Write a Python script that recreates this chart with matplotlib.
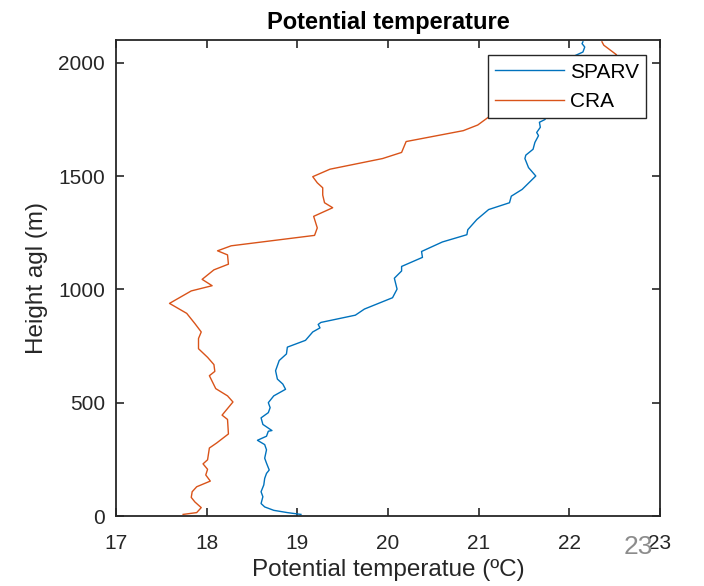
import matplotlib
matplotlib.use("Agg")
import matplotlib.pyplot as plt

plt.rcParams['font.family'] = ['Liberation Sans', 'DejaVu Sans']

# SPARV profile (potential temperature degC, height m)
sparv_theta = [19.04, 18.89, 18.74, 18.64, 18.60, 18.62, 18.60, 18.63, 18.64, 18.66, 18.69,
               18.66, 18.64, 18.66, 18.64, 18.56, 18.66, 18.68, 18.72, 18.62, 18.60, 18.68,
               18.70, 18.68, 18.74, 18.87, 18.84, 18.78, 18.76, 18.80, 18.88, 18.89, 19.09,
               19.17, 19.25, 19.23, 19.26, 19.64, 19.74, 20.05, 20.10, 20.07, 20.15, 20.15,
               20.38, 20.37, 20.60, 20.87, 20.88, 20.98, 21.11, 21.34, 21.36, 21.48, 21.63,
               21.55, 21.51, 21.52, 21.60, 21.62, 21.66, 21.64, 21.68, 21.67, 21.73, 21.85,
               21.95, 22.00, 22.03, 22.15, 22.17, 22.14, 22.15]
sparv_height = [7, 15, 25, 40, 55, 85, 107, 137, 166, 188, 203,
                233, 255, 292, 315, 334, 352, 374, 377, 404, 433, 456,
                478, 500, 530, 559, 582, 604, 641, 686, 715, 745, 775,
                812, 830, 845, 854, 886, 913, 963, 1001, 1049, 1081, 1101,
                1141, 1167, 1209, 1241, 1263, 1308, 1352, 1382, 1411, 1441, 1500,
                1537, 1577, 1592, 1618, 1648, 1678, 1692, 1715, 1737, 1749, 1820,
                1900, 1970, 2025, 2047, 2069, 2084, 2092]

# CRA profile
cra_theta = [17.74, 17.89, 17.94, 17.87, 17.83, 17.84, 17.89, 18.04, 17.99, 18.01, 17.96,
             18.01, 18.03, 18.11, 18.24, 18.23, 18.17, 18.29, 18.23, 18.10, 18.03, 18.09,
             18.08, 18.01, 17.91, 17.91, 17.94, 17.87, 17.78, 17.59, 17.83, 18.06,
             17.95, 18.08, 18.24, 18.23, 18.12, 18.27, 19.19, 19.22, 19.18, 19.39, 19.30,
             19.28, 19.28, 19.22, 19.17, 19.36, 19.94, 20.15, 20.20, 20.83, 20.99, 21.13,
             21.60, 21.95, 22.25, 22.52, 22.38, 22.36]
cra_height = [7, 15, 37, 62, 82, 107, 129, 154, 181, 206, 230,
              248, 300, 322, 362, 426, 445, 503, 530, 562, 619, 638,
              668, 700, 738, 783, 812, 849, 894, 938, 993, 1016,
              1044, 1086, 1111, 1152, 1170, 1192, 1238, 1271, 1322, 1360, 1382,
              1416, 1448, 1470, 1497, 1530, 1577, 1604, 1652, 1700, 1725, 1766,
              1820, 1900, 1970, 2035, 2077, 2092]

xticks = [17, 18, 19, 20, 21, 22, 23]
yticks = [0, 500, 1000, 1500, 2000]

fig = plt.figure(figsize=(7.04, 5.86), dpi=100)
ax = fig.add_axes([116/704, 1 - 516/586, 544/704, 476/586])

ax.plot(sparv_theta, sparv_height, color='#0072BD', lw=1.0, label='SPARV')
ax.plot(cra_theta, cra_height, color='#D95319', lw=1.0, label='CRA')

ax.set_xlim(17, 23)
ax.set_ylim(0, 2100)
ax.set_xticks(xticks)
ax.set_yticks(yticks)
ax.tick_params(direction='in', length=6, width=1.2, top=True, right=True,
               labelsize=15, colors='#262626', pad=8)
ax.tick_params(axis='x', pad=13)
for s in ax.spines.values():
    s.set_linewidth(1.3)
    s.set_color('#262626')

ax.set_title('Potential temperature', fontsize=17, fontweight='bold', pad=8)
ax.set_xlabel('Potential temperatue (ºC)', fontsize=17.5, color='#262626', labelpad=4.5)
ax.set_ylabel('Height agl (m)', fontsize=17.5, color='#262626', labelpad=7)

leg = ax.legend(loc='upper right', bbox_to_anchor=(0.975, 0.968), fontsize=15,
                handlelength=3.3, fancybox=False, framealpha=1, edgecolor='#262626',
                borderpad=0.35, labelspacing=0.5, handletextpad=0.3, borderaxespad=0)
leg.get_frame().set_linewidth(1.0)

fig.text(638/704, 1 - 547/586, '23', fontsize=19, color='#8c8c8c', ha='center', va='center')

fig.savefig('out.png', dpi=100)
